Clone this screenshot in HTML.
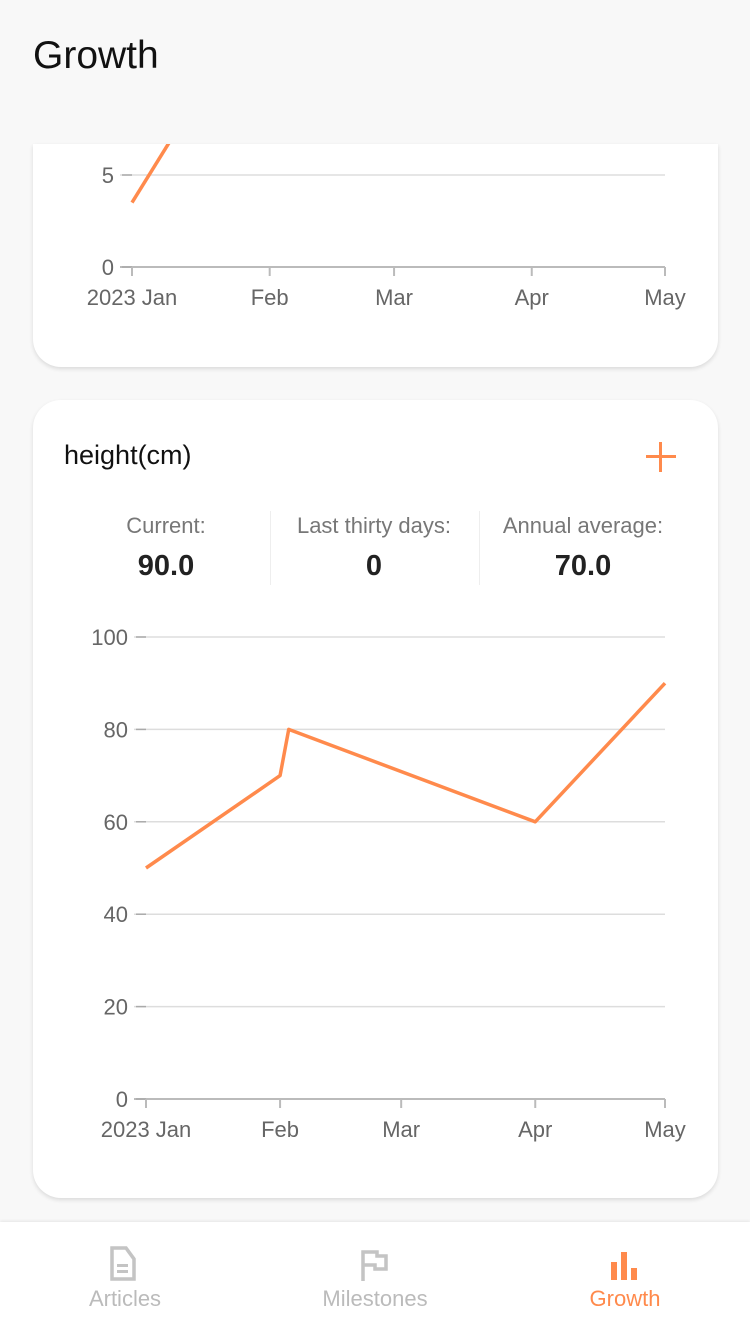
<!DOCTYPE html>
<html><head><meta charset="utf-8"><style>
body{margin:0;width:750px;height:1333px;background:#f8f8f8;font-family:"Liberation Sans",sans-serif;position:relative;overflow:hidden}
.abs{position:absolute}
.card{background:#fff;border-radius:28px;box-shadow:0 2px 4px rgba(0,0,0,.12)}
.lbl{color:#777;font-size:22px;text-align:center;width:206px}
.val{color:#222;font-size:29px;font-weight:bold;text-align:center;width:206px}
.nav{font-size:22px;text-align:center;width:250px}
</style></head><body>
<div class="abs" style="left:33px;top:34px;font-size:39px;color:#111">Growth</div>
<div class="abs card" style="left:33px;top:144px;width:685px;height:223px;border-top-left-radius:0;border-top-right-radius:0"></div>
<div class="abs card" style="left:33px;top:400px;width:685px;height:798px"></div>
<div class="abs" style="left:64px;top:440px;font-size:27px;color:#111">height(cm)</div>
<div class="abs" style="left:646px;top:442px;width:30px;height:30px">
<div class="abs" style="left:0;top:13px;width:30px;height:3px;background:#ff8a4c"></div>
<div class="abs" style="left:13px;top:0;width:3px;height:30px;background:#ff8a4c"></div></div>
<div class="abs lbl" style="left:63px;top:513px">Current:</div>
<div class="abs val" style="left:63px;top:550px">90.0</div>
<div class="abs" style="left:270px;top:511px;width:1px;height:74px;background:#eee"></div>
<div class="abs lbl" style="left:271px;top:513px">Last thirty days:</div>
<div class="abs val" style="left:271px;top:550px">0</div>
<div class="abs" style="left:479px;top:511px;width:1px;height:74px;background:#eee"></div>
<div class="abs lbl" style="left:480px;top:513px">Annual average:</div>
<div class="abs val" style="left:480px;top:550px">70.0</div>

<svg id="charts" class="abs" style="left:0;top:0" width="750" height="1333" font-family="Liberation Sans, sans-serif">
<defs><clipPath id="topclip"><rect x="0" y="144" width="750" height="230"/></clipPath></defs>
<g id="topChart" clip-path="url(#topclip)"></g>
<g id="botChart"></g>
</svg>

<div class="abs" style="left:0;top:1222px;width:750px;height:111px;background:#fff;box-shadow:0 -1px 3px rgba(0,0,0,.08)"></div>
<div class="abs" style="left:0;top:1246px;width:250px;height:70px">
<svg class="abs" style="left:110px;top:0" width="30" height="36"><path d="M2 2h14l8 11v20H2z" fill="none" stroke="#c4c4c4" stroke-width="3.5"/><rect x="7" y="18" width="11" height="3" fill="#c4c4c4"/><rect x="7" y="24" width="11" height="3" fill="#c4c4c4"/></svg>
<div class="abs nav" style="left:0;top:40px;color:#bbb">Articles</div></div>
<div class="abs" style="left:250px;top:1246px;width:250px;height:70px">
<svg class="abs" style="left:110px;top:3px" width="30" height="34"><path d="M3 32V3h14v4h9v13H15v-4H3" fill="none" stroke="#c4c4c4" stroke-width="3.5"/></svg>
<div class="abs nav" style="left:0;top:40px;color:#bbb">Milestones</div></div>
<div class="abs" style="left:500px;top:1246px;width:250px;height:70px">
<svg class="abs" style="left:110px;top:3px" width="30" height="32"><rect x="1" y="13" width="6" height="18" fill="#ff8a4c"/><rect x="11" y="3" width="6" height="28" fill="#ff8a4c"/><rect x="21" y="19" width="6" height="12" fill="#ff8a4c"/></svg>
<div class="abs nav" style="left:0;top:40px;color:#ff8a4c">Growth</div></div>

<script>
const monthLabels=["2023 Jan","Feb","Mar","Apr","May"];
const monthDays=[0,31,59,90,120];
const topYTicks=[0,5];
const topDays=[0,10];
const topValues=[3.5,7.4];
const botYTicks=[0,20,40,60,80,100];
const botDays=[0,31,33,90,120];
const botValues=[50,70,80,60,90];
const NS="http://www.w3.org/2000/svg";
function mk(p,t,a){const e=document.createElementNS(NS,t);for(const k in a)e.setAttribute(k,a[k]);p.appendChild(e);return e;}
function draw(g,cfg,days,vals,yTicks){
  const x=d=>cfg.x0+(cfg.x1-cfg.x0)*d/120;
  const y=v=>cfg.y0-(v-0)*cfg.ppu;
  yTicks.forEach(t=>{
    const yy=y(t);
    const l=mk(g,'line',{x1:cfg.x0-12,x2:cfg.x1,y1:yy,y2:yy,stroke:t===0?'#bbb':'#ddd','stroke-width':t===0?2:1.5});
    
    
    mk(g,'line',{x1:cfg.x0-10,x2:cfg.x0,y1:yy,y2:yy,stroke:'#aaa','stroke-width':1.5});
    const tx=mk(g,'text',{x:cfg.x0-18,y:yy+8,'text-anchor':'end','font-size':22,fill:'#666'});
    tx.textContent=t;
    
    
  });
  monthDays.forEach((d,i)=>{
    const xx=x(d);
    mk(g,'line',{x1:xx,x2:xx,y1:cfg.y0,y2:cfg.y0+9,stroke:'#bbb','stroke-width':2});
    const tx=mk(g,'text',{x:xx,y:cfg.y0+38,'text-anchor':'middle','font-size':22,fill:'#666'});
    tx.textContent=monthLabels[i];
    
    
  });
  const pts=days.map((d,i)=>x(d)+','+y(vals[i])).join(' ');
  const pl=mk(g,'polyline',{points:pts,fill:'none',stroke:'#ff8a4c','stroke-width':3.5,'stroke-linejoin':'round'});
  
  
}
draw(document.getElementById('topChart'),{x0:132,x1:665,y0:267,ppu:18.4},topDays,topValues,topYTicks);
draw(document.getElementById('botChart'),{x0:146,x1:665,y0:1099,ppu:4.62},botDays,botValues,botYTicks);
</script>
</body></html>
